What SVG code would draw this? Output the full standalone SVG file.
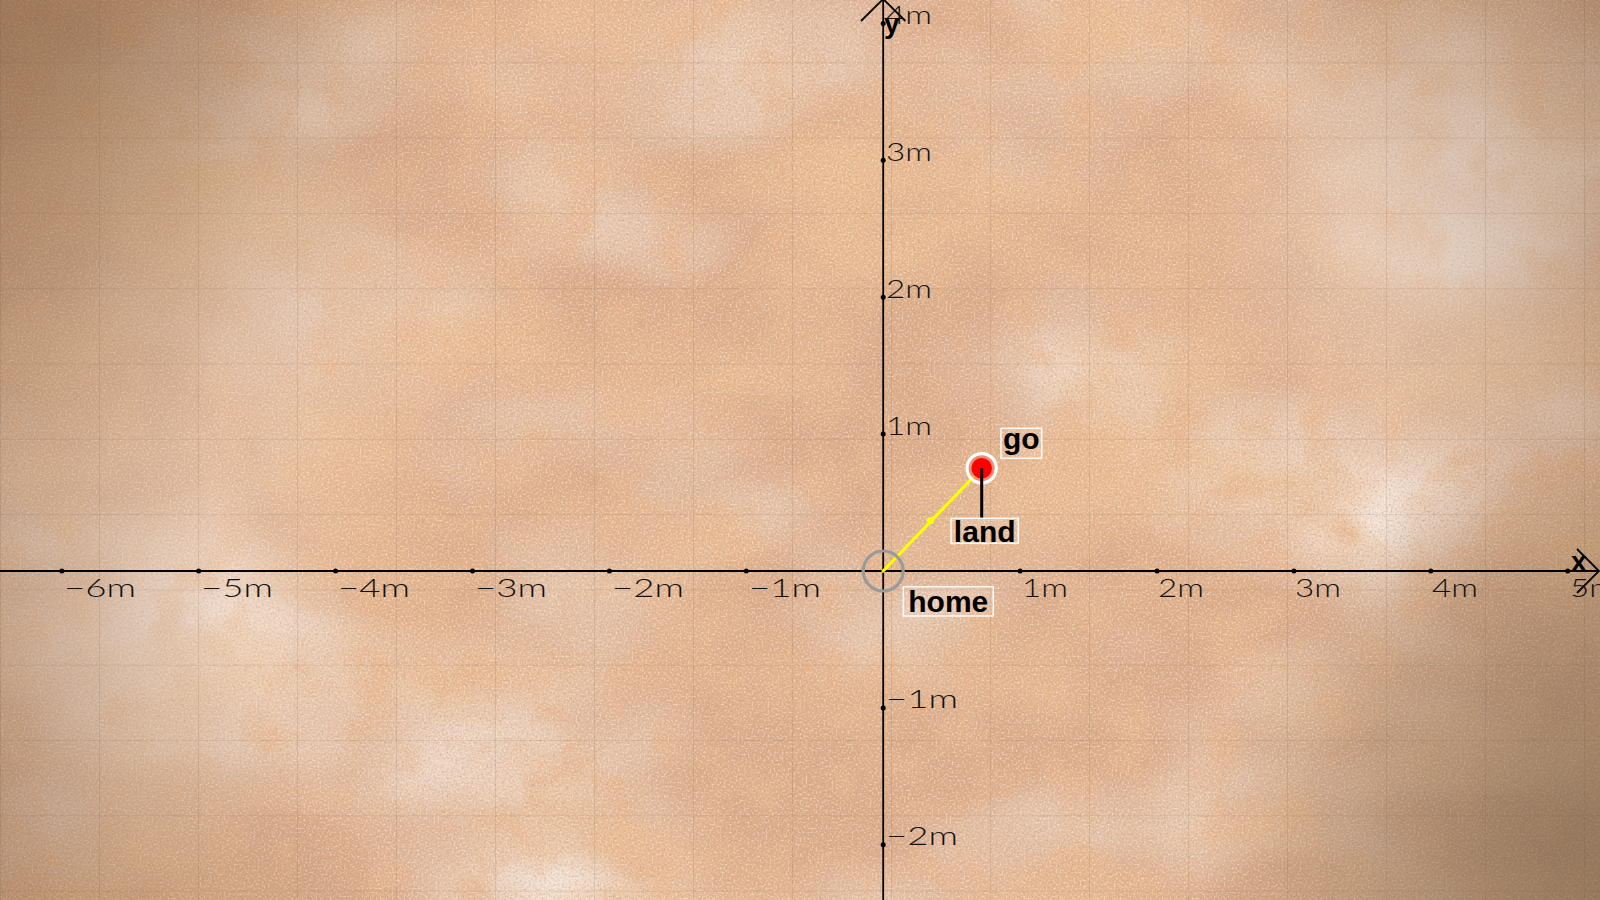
<svg xmlns="http://www.w3.org/2000/svg" width="1600" height="900" viewBox="0 0 1600 900">
<defs>
<filter id="blotch" filterUnits="userSpaceOnUse" x="0" y="0" width="1600" height="900">
<feTurbulence type="fractalNoise" baseFrequency="0.004 0.007" numOctaves="4" seed="3"/>
<feColorMatrix type="matrix" values="0 0 0 0 0.83  0 0 0 0 0.50  0 0 0 0 0.28  3 0 0 0 -1.35"/>
</filter>
<filter id="blotch2" filterUnits="userSpaceOnUse" x="0" y="0" width="1600" height="900">
<feTurbulence type="fractalNoise" baseFrequency="0.02" numOctaves="3" seed="17"/>
<feColorMatrix type="matrix" values="0 0 0 0 0.80  0 0 0 0 0.46  0 0 0 0 0.26  2.4 0 0 0 -1.15"/>
</filter>
<filter id="light" filterUnits="userSpaceOnUse" x="0" y="0" width="1600" height="900">
<feTurbulence type="fractalNoise" baseFrequency="0.003 0.005" numOctaves="3" seed="11"/>
<feColorMatrix type="matrix" values="0 0 0 0 0.94  0 0 0 0 0.84  0 0 0 0 0.77  0 2 0 0 -0.85"/>
</filter>
<filter id="grain" filterUnits="userSpaceOnUse" x="0" y="0" width="1600" height="900">
<feTurbulence type="fractalNoise" baseFrequency="0.45" numOctaves="2" seed="7"/>
<feColorMatrix type="matrix" values="0 0 0 0 0.55  0 0 0 0 0.36  0 0 0 0 0.24  0 0 1.6 0 -0.75"/>
</filter>
<filter id="grain2" filterUnits="userSpaceOnUse" x="0" y="0" width="1600" height="900">
<feTurbulence type="fractalNoise" baseFrequency="0.5" numOctaves="2" seed="21"/>
<feColorMatrix type="matrix" values="0 0 0 0 0.97  0 0 0 0 0.90  0 0 0 0 0.85  0 1.6 0 0 -0.75"/>
</filter>
<radialGradient id="vig" gradientUnits="userSpaceOnUse" cx="800" cy="450" r="980">
<stop offset="0.6" stop-color="#5a3a22" stop-opacity="0"/>
<stop offset="1" stop-color="#5a3a22" stop-opacity="0.4"/>
</radialGradient>
<radialGradient id="tl" gradientUnits="userSpaceOnUse" cx="60" cy="40" r="420">
<stop offset="0" stop-color="#7a5535" stop-opacity="0.4"/>
<stop offset="1" stop-color="#7a5535" stop-opacity="0"/>
</radialGradient>
<radialGradient id="br" gradientUnits="userSpaceOnUse" cx="1580" cy="840" r="380">
<stop offset="0" stop-color="#6a5a45" stop-opacity="0.45"/>
<stop offset="1" stop-color="#6a5a45" stop-opacity="0"/>
</radialGradient>
<radialGradient id="lt1" gradientUnits="userSpaceOnUse" cx="1450" cy="230" r="260">
<stop offset="0" stop-color="#f0e2d6" stop-opacity="0.45"/>
<stop offset="1" stop-color="#f0e2d6" stop-opacity="0"/>
</radialGradient>
<radialGradient id="lt2" gradientUnits="userSpaceOnUse" cx="120" cy="640" r="260">
<stop offset="0" stop-color="#f0e2d6" stop-opacity="0.4"/>
<stop offset="1" stop-color="#f0e2d6" stop-opacity="0"/>
</radialGradient>
<radialGradient id="lt3" gradientUnits="userSpaceOnUse" cx="200" cy="330" r="300">
<stop offset="0" stop-color="#f0dccd" stop-opacity="0.3"/>
<stop offset="1" stop-color="#f0dccd" stop-opacity="0"/>
</radialGradient>
<pattern id="grid" patternUnits="userSpaceOnUse" x="0" y="-13" width="99" height="75.3">
<path d="M0 0V75.3M0 0H99" fill="none" stroke="#7d5f47" stroke-width="1.2" stroke-opacity="0.28"/>
</pattern>
<style>
.ax{stroke:#000;stroke-width:1.8;fill:none}
.tick{fill:#000}
.tl{font-family:"Lato","DejaVu Sans",sans-serif;font-weight:300;font-size:26px;fill:#111}
.axn{font-family:"Liberation Sans",Arial,sans-serif;font-weight:bold;font-size:28px;fill:#000}
.lbl{font-family:"Liberation Sans",Arial,sans-serif;font-weight:bold;font-size:30px;fill:#000;text-anchor:middle}
.box{fill:#ffffff;fill-opacity:0.12;stroke:#ffffff;stroke-opacity:0.9;stroke-width:1.5}
</style>
</defs>

<g id="background">
<rect width="1600" height="900" fill="#dcab88"/>
<rect width="1600" height="900" filter="url(#light)"/>
<rect width="1600" height="900" filter="url(#blotch)"/>
<rect width="1600" height="900" filter="url(#blotch2)"/>
<rect width="1600" height="900" filter="url(#grain)"/>
<rect width="1600" height="900" filter="url(#grain2)"/>
<rect width="1600" height="900" fill="url(#lt1)"/>
<rect width="1600" height="900" fill="url(#lt2)"/>
<rect width="1600" height="900" fill="url(#lt3)"/>
<rect width="1600" height="900" fill="url(#grid)"/>
<rect width="1600" height="900" fill="url(#vig)"/>
<rect width="1600" height="900" fill="url(#tl)"/>
<rect width="1600" height="900" fill="url(#br)"/>
</g>

<g id="axes">
<line class="ax" x1="0" y1="571" x2="1599" y2="571"/>
<line class="ax" x1="883.2" y1="900" x2="883.2" y2="-1"/>
<polyline class="ax" points="1577,549 1599,571 1577,593"/>
<polyline class="ax" points="861,21 883.2,-1 905.4,21"/>
<g class="tick">
<circle cx="61.8" cy="571" r="2.5"/><circle cx="198.7" cy="571" r="2.5"/><circle cx="335.6" cy="571" r="2.5"/>
<circle cx="472.5" cy="571" r="2.5"/><circle cx="609.4" cy="571" r="2.5"/><circle cx="746.3" cy="571" r="2.5"/>
<circle cx="1020.1" cy="571" r="2.5"/><circle cx="1157" cy="571" r="2.5"/><circle cx="1293.9" cy="571" r="2.5"/>
<circle cx="1430.8" cy="571" r="2.5"/><circle cx="1567.7" cy="571" r="2.5"/>
<circle cx="883.2" cy="23.4" r="2.5"/><circle cx="883.2" cy="160.3" r="2.5"/><circle cx="883.2" cy="297.2" r="2.5"/>
<circle cx="883.2" cy="434.1" r="2.5"/><circle cx="883.2" cy="707.9" r="2.5"/><circle cx="883.2" cy="844.8" r="2.5"/>
</g>
<g>
<text class="tl" x="64" y="597" textLength="72" lengthAdjust="spacingAndGlyphs">−6m</text>
<text class="tl" x="201" y="597" textLength="72" lengthAdjust="spacingAndGlyphs">−5m</text>
<text class="tl" x="338" y="597" textLength="72" lengthAdjust="spacingAndGlyphs">−4m</text>
<text class="tl" x="475" y="597" textLength="72" lengthAdjust="spacingAndGlyphs">−3m</text>
<text class="tl" x="612" y="597" textLength="72" lengthAdjust="spacingAndGlyphs">−2m</text>
<text class="tl" x="749" y="597" textLength="72" lengthAdjust="spacingAndGlyphs">−1m</text>
<text class="tl" x="1022" y="597" textLength="46" lengthAdjust="spacingAndGlyphs">1m</text>
<text class="tl" x="1158" y="597" textLength="46" lengthAdjust="spacingAndGlyphs">2m</text>
<text class="tl" x="1295" y="597" textLength="46" lengthAdjust="spacingAndGlyphs">3m</text>
<text class="tl" x="1432" y="597" textLength="46" lengthAdjust="spacingAndGlyphs">4m</text>
<text class="tl" x="1570" y="597" textLength="46" lengthAdjust="spacingAndGlyphs">5m</text>
<text class="tl" x="886" y="24" textLength="46" lengthAdjust="spacingAndGlyphs">4m</text>
<text class="tl" x="886" y="161" textLength="46" lengthAdjust="spacingAndGlyphs">3m</text>
<text class="tl" x="886" y="298" textLength="46" lengthAdjust="spacingAndGlyphs">2m</text>
<text class="tl" x="886" y="435" textLength="46" lengthAdjust="spacingAndGlyphs">1m</text>
<text class="tl" x="886" y="708" textLength="72" lengthAdjust="spacingAndGlyphs">−1m</text>
<text class="tl" x="886" y="845" textLength="72" lengthAdjust="spacingAndGlyphs">−2m</text>
</g>
<text class="axn" x="1571" y="571">x</text>
<text class="axn" x="884" y="33">y</text>
</g>

<g id="connectors">
<line x1="883.2" y1="571" x2="973.4" y2="477" stroke="#ffff00" stroke-width="3.2" stroke-linecap="round"/>
<circle cx="930.7" cy="520.5" r="3.6" fill="#ffff00"/>
</g>

<g id="home">
<circle cx="883.2" cy="571" r="20" fill="none" stroke="#9a9a9a" stroke-width="3.2"/>
<rect class="box" x="903.3" y="586.7" width="90" height="29.3"/>
<text class="lbl" x="948.3" y="611.7">home</text>
</g>

<g id="go">
<circle cx="981.7" cy="468.3" r="14" fill="#f06a5a" fill-opacity="0.55"/>
<circle cx="981.7" cy="468.3" r="14.6" fill="none" stroke="#ffffff" stroke-width="3.2"/>
<circle cx="981.7" cy="468.3" r="10.3" fill="#ff0000"/>
<rect class="box" x="1001" y="428.3" width="40.7" height="30"/>
<text class="lbl" x="1021.3" y="448.5">go</text>
</g>

<g id="land">
<line x1="981.7" y1="468.3" x2="981.7" y2="518.3" stroke="#000" stroke-width="3"/>
<rect class="box" x="951" y="518.3" width="67.3" height="25"/>
<text class="lbl" x="984.7" y="541.7">land</text>
</g>
</svg>
